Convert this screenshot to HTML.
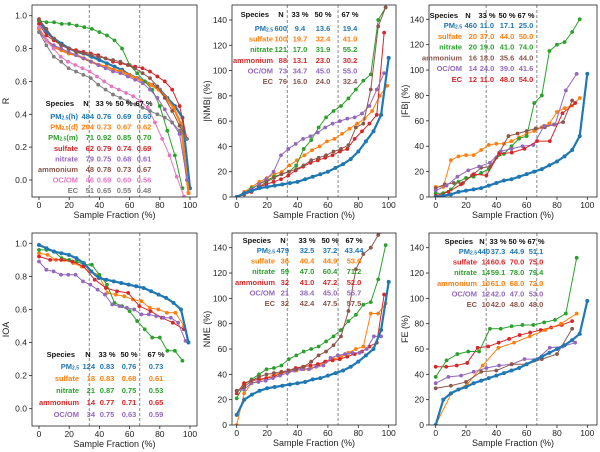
<!DOCTYPE html>
<html><head><meta charset="utf-8">
<style>
html,body{margin:0;padding:0;background:#fff;}
svg{display:block;font-family:"Liberation Sans",sans-serif;}
</style></head>
<body>
<svg id="fig" width="600" height="452" viewBox="0 0 600 452" xmlns="http://www.w3.org/2000/svg"></svg>
<script>
// ---------- data ----------
const rPm25h=[0.97,0.90,0.86,0.83,0.80,0.78,0.77,0.75,0.73,0.71,0.69,0.67,0.64,0.62,0.60,0.58,0.55,0.50,0.45,0.38,-0.05];
const rPm25d=[0.92,0.85,0.81,0.79,0.77,0.76,0.74,0.72,0.70,0.69,0.67,0.66,0.64,0.62,0.60,0.58,0.55,0.50,0.44,0.34,-0.08];
const rPm25m=[0.97,0.96,0.96,0.95,0.95,0.94,0.93,0.92,0.90,0.88,0.85,0.80,0.70,0.65,0.60,0.55,0.45,0.30,0.15,-0.05];
const rSulfate=[0.95,0.88,0.85,0.82,0.80,0.79,0.78,0.77,0.76,0.74,0.72,0.71,0.70,0.69,0.68,0.66,0.63,0.60,0.55,0.45,0.25];
const rNitrate=[0.90,0.85,0.82,0.80,0.78,0.76,0.74,0.72,0.70,0.68,0.66,0.65,0.63,0.61,0.59,0.55,0.50,0.43,0.35,0.28,0.0];
const rAmmonium=[0.98,0.92,0.86,0.82,0.80,0.78,0.77,0.76,0.75,0.74,0.73,0.72,0.70,0.68,0.65,0.62,0.57,0.50,0.42,0.33,0.25];
const rOcom=[0.93,0.85,0.80,0.75,0.72,0.70,0.68,0.66,0.63,0.60,0.57,0.55,0.53,0.51,0.48,0.44,0.35,0.25,0.15,0.02,-0.1];
const rEc=[0.90,0.82,0.75,0.72,0.68,0.66,0.64,0.62,0.58,0.55,0.52,0.50,0.48,0.46,0.44,0.42,0.40,0.38,0.35,0.30,0.25];

const nmbPm25=[0,3,5,7,8,9,10,11,12,14,16,18,20,23,26,30,36,44,52,65,110];
const nmbSulfate=[0,4,8,12,15,18,20,25,29,33,37,40,44,46,50,54,58,62,68,80,88];
const nmbNitrate=[0,3,7,10,13,16,18,20,25,38,45,55,63,68,72,78,85,92,97,140,150];
const nmbAmmonium=[0,2,4,8,10,12,14,17,21,24,27,29,31,33,36,38,46,52,58,65,130];
const nmbOcom=[0,3,6,10,14,20,33,38,42,46,48,51,55,58,60,62,63,66,72,85,98];
const nmbEc=[0,2,5,8,12,15,18,20,22,25,29,31,33,36,38,41,55,58,85,135,150];

const fbPm25=[0,1,2,4,5,6,7,9,11,13,14,16,18,20,22,25,28,32,37,48,97];
const fbSulfate=[8,8,29,32,33,33,37,41,42,42,44,47,50,52,55,58,67,70,72,78];
const fbNitrate=[3,3,6,12,15,16,19,22,31,34,40,46,48,74,80,115,120,122,130,140];
const fbAmmonium=[7,10,11,11,17,23,24,35,48,50,52,54,55,57,59,76];
const fbOcom=[5,9,16,21,24,27,36,38,40,41,56,57,84,97];
const fbEc=[1,4,10,18,17,34,35,38,44,44,66,74];

const ioaPm25=[0.99,0.97,0.95,0.94,0.93,0.91,0.88,0.83,0.79,0.78,0.77,0.76,0.75,0.74,0.73,0.71,0.69,0.67,0.64,0.60,0.40];
const ioaSulfate=[0.94,0.93,0.90,0.90,0.88,0.86,0.83,0.81,0.70,0.69,0.68,0.66,0.65,0.61,0.60,0.58,0.58,0.50];
const ioaNitrate=[0.96,0.96,0.95,0.91,0.90,0.89,0.87,0.87,0.81,0.75,0.64,0.62,0.59,0.53,0.48,0.43,0.43,0.35,0.35,0.29];
const ioaAmmonium=[0.92,0.90,0.90,0.89,0.86,0.78,0.73,0.71,0.70,0.62,0.59,0.55,0.52,0.48];
const ioaOcom=[0.89,0.84,0.83,0.81,0.81,0.81,0.77,0.75,0.72,0.69,0.63,0.62,0.61,0.60,0.57,0.57,0.56,0.55,0.55,0.52,0.41];

const nmePm25=[8,20,24,27,29,30,31,32,33,34,36,37,39,41,43,46,50,55,60,75,113];
const nmeSulfate=[0,25,33,35,37,40,41,42,43,44,45,47,50,52,54,57,60,62,88,88,96];
const nmeNitrate=[21,32,36,40,44,45,47,52,55,58,60,62,66,70,75,82,87,95,97,115,142];
const nmeAmmonium=[25,33,35,36,37,38,41,43,45,46,47,48,50,51,52,54,56,58,62,65,103];
const nmeOcom=[27,28,33,34,35,37,39,41,43,44,44,46,47,53,55,56,57,57,60,70,70];
const nmeEc=[27,30,35,38,40,41,42,43,44,46,50,55,58,63,70,90,123,135,140,150,155];

const fePm25=[0,20,25,28,30,33,35,37,39,41,43,45,48,51,54,57,60,63,67,72,98];
const feSulfate=[46,46,47,49,61,62,65,68,71,73,75,77,79,82];
const feNitrate=[38,51,56,58,58,76,76,78,79,79,81,83,88,132];
const feAmmonium=[0,25,32,47,61,65,70,75,80,88];
const feOcom=[33,38,39,42,45,47,48,52,52,61,62,65];
const feEc=[29,31,34,42,43,48,48,52,56,76];

// table rows: [name, N, p33, p50, p67]
const rTable=[["PM(h)","484","0.76","0.69","0.60"],["PM(d)","204","0.73","0.67","0.62"],["PM(m)","71","0.92","0.85","0.70"],["sulfate","62","0.79","0.74","0.69"],["nitrate","79","0.75","0.68","0.61"],["ammonium","48","0.78","0.73","0.67"],["OC/OM","46","0.69","0.60","0.56"],["EC","51","0.65","0.55","0.48"]];
const nmbTable=[["PM","600","9.4","13.6","19.4"],["sulfate","100","19.7","32.4","41.0"],["nitrate","121","17.0","31.9","55.2"],["ammonium","88","13.1","23.0","30.2"],["OC/OM","73","34.7","45.0","55.0"],["EC","76","16.0","24.0","32.4"]];
const fbTable=[["PM","460","11.0","17.1","25.0"],["sulfate","20","37.0","44.0","50.0"],["nitrate","20","19.0","41.0","74.0"],["ammonium","16","18.0","35.6","44.0"],["OC/OM","14","24.0","39.0","41.6"],["EC","12","11.0","48.0","54.0"]];
const ioaTable=[["PM","124","0.83","0.76","0.73"],["sulfate","18","0.83","0.68","0.61"],["nitrate","21","0.87","0.75","0.53"],["ammonium","14","0.77","0.71","0.65"],["OC/OM","34","0.75","0.63","0.59"]];
const nmeTable=[["PM","479","32.5","37.2","43.44"],["sulfate","36","40.4","44.9","53.6"],["nitrate","59","47.0","60.4","71.2"],["ammonium","32","41.0","47.2","52.0"],["OC/OM","21","38.4","45.0","55.7"],["EC","32","42.4","47.5","57.5"]];
const feTable=[["PM","440","37.3","44.9","51.1"],["sulfate","14","60.6","70.0","75.0"],["nitrate","14","59.1","78.0","79.4"],["ammonium","10","61.0","68.0","72.0"],["OC/OM","12","42.0","47.0","53.0"],["EC","10","42.0","48.0","48.0"]];

const xTicks=[0,20,40,60,80,100];
const rTicks=[0.0,0.2,0.4,0.6,0.8,1.0];
const pctTicks=[0,20,40,60,80,100,120,140];
const cutoffs=[33.3,66.7];

// ---------- drawing ----------
const C={blue:"#1f77b4",orange:"#ff7f0e",green:"#2ca02c",red:"#d62728",purple:"#9467bd",brown:"#8c564b",pink:"#e377c2",gray:"#7f7f7f"};
const NS="http://www.w3.org/2000/svg";
const svg=document.getElementById("fig");
function mk(tag,attrs,parent){const e=document.createElementNS(NS,tag);for(const k in attrs)e.setAttribute(k,attrs[k]);(parent||svg).appendChild(e);return e;}
const FS=7.5;

function drawPanel(p){
  const g=mk("g",{});
  
  
  const X=v=>p.x0+(v/100)*(p.x100-p.x0);
  const Y=v=>p.yA+(v-p.vA)*(p.yB-p.yA)/(p.vB-p.vA);
  const clipId="clip-"+p.name;
  const cp=mk("clipPath",{id:clipId},g);
  mk("rect",{x:p.bx0,y:p.by0,width:p.bx1-p.bx0,height:p.by1-p.by0},cp);
  cutoffs.forEach(c=>{
    const l=mk("line",{x1:X(c),x2:X(c),y1:p.by0,y2:p.by1,stroke:"#888","stroke-width":1,"stroke-dasharray":"3,2"},g);
    
    
  });
  const sg=mk("g",{"clip-path":"url(#"+clipId+")"},g);
  p.series.forEach(s=>{
    const n=s.y.length;
    const pts=s.y.map((v,i)=>[X(n>1?i*s.xmax/(n-1):0),Y(v)]);
    const pl=mk("polyline",{points:pts.map(q=>q.join(",")).join(" "),fill:"none",stroke:s.c,"stroke-width":s.dense?2.2:1},sg);
    
    
    pts.forEach(q=>{
      const c=mk("circle",{cx:q[0],cy:q[1],r:s.dense?2:1.9,fill:s.c},sg);
      
      
    });
  });
  const box=mk("rect",{x:p.bx0,y:p.by0,width:p.bx1-p.bx0,height:p.by1-p.by0,fill:"none",stroke:"#222","stroke-width":0.8},g);
  
  
  xTicks.forEach(t=>{
    mk("line",{x1:X(t),x2:X(t),y1:p.by1,y2:p.by1+3,stroke:"#222","stroke-width":0.8},g);
    const tx=mk("text",{x:X(t),y:p.by1+11,"font-size":8.5,"text-anchor":"middle",fill:"#222"},g);
    tx.textContent=t;
    
    
  });
  const xl=mk("text",{x:(p.bx0+p.bx1)/2,y:p.by1+21,"font-size":9,"text-anchor":"middle",fill:"#222"},g);
  xl.textContent="Sample Fraction (%)";
  
  
  p.ticks.forEach(t=>{
    mk("line",{x1:p.bx0-3,x2:p.bx0,y1:Y(t),y2:Y(t),stroke:"#222","stroke-width":0.8},g);
    const tx=mk("text",{x:p.bx0-5,y:Y(t)+3,"font-size":8.5,"text-anchor":"end",fill:"#222"},g);
    tx.textContent=p.fmt(t);
    
    
  });
  const yx=p.ylx, yy=(p.by0+p.by1)/2;
  const yl=mk("text",{x:yx,y:yy,"font-size":9,"text-anchor":"middle",fill:"#222",transform:`rotate(-90 ${yx} ${yy})`},g);
  yl.textContent=p.ylabel;
  
  
  // table
  const T=p.table;
  const hdr=[["Species",T.nameX-4,"end"],["N",T.nH,"middle"],["33 %",T.c1,"middle"],["50 %",T.c2,"middle"],["67 %",T.c3,"middle"]];
  hdr.forEach(h=>{
    const t=mk("text",{x:h[1],y:T.hy,"font-size":FS,"font-weight":"bold","text-anchor":h[2],"dominant-baseline":"middle",fill:"#111"},g);
    t.textContent=h[0];
    
    
  });
  T.rows.forEach((row,i)=>{
    const y=T.ry0+i*T.dy, col=T.colors[i];
    const nm=mk("text",{x:T.nameX,y:y,"font-size":FS,"font-weight":"bold","text-anchor":"end","dominant-baseline":"middle",fill:col},g);
    
    
    const name=row[0];
    if(name.startsWith("PM")){
      const a=mk("tspan",{},nm);a.textContent="PM";
      const b=mk("tspan",{"font-size":5,dy:1.5},nm);b.textContent="2.5";
      if(name.length>2){const c=mk("tspan",{dy:-1.5},nm);c.textContent=name.slice(2);}
    } else nm.textContent=name;
    [[row[1],T.nR,"end"],[row[2],T.c1,"middle"],[row[3],T.c2,"middle"],[row[4],T.c3,"middle"]].forEach(v=>{
      const t=mk("text",{x:v[1],y:y,"font-size":FS,"font-weight":"bold","text-anchor":v[2],"dominant-baseline":"middle",fill:col},g);
      t.textContent=v[0];
      
      
    });
  });
}

const panels=[
 {name:"r",bx0:32,bx1:197,by0:5,by1:197,x0:39,x100:190,vA:0,yA:180,vB:1,yB:15.7,ticks:rTicks,fmt:t=>t.toFixed(1),ylabel:"R",ylx:9,
  series:[{id:"pm25h",y:rPm25h,xmax:100,c:C.blue,dense:1},{id:"pm25d",y:rPm25d,xmax:99,c:C.orange,dense:1},{id:"pm25m",y:rPm25m,xmax:95,c:C.green},
   {id:"sulfate",y:rSulfate,xmax:98,c:C.red},{id:"nitrate",y:rNitrate,xmax:98,c:C.purple},{id:"ammonium",y:rAmmonium,xmax:98,c:C.brown},
   {id:"ocom",y:rOcom,xmax:96,c:C.pink},{id:"ec",y:rEc,xmax:98,c:C.gray}],
  table:{rows:rTable,colors:[C.blue,C.orange,C.green,C.red,C.purple,C.brown,C.pink,C.gray],nameX:78,nR:94,nH:86,c1:104,c2:124,c3:144,hy:104,ry0:117,dy:10.6}},
 {name:"nmb",bx0:232,bx1:396,by0:5,by1:197,x0:236.7,x100:388.7,vA:0,yA:197,vB:140,yB:20,ticks:pctTicks,fmt:t=>t,ylabel:"|NMB| (%)",ylx:210,
  series:[{id:"sulfate",y:nmbSulfate,xmax:99,c:C.orange},{id:"nitrate",y:nmbNitrate,xmax:98,c:C.green},{id:"ammonium",y:nmbAmmonium,xmax:97,c:C.red},
   {id:"ocom",y:nmbOcom,xmax:97,c:C.purple},{id:"ec",y:nmbEc,xmax:98,c:C.brown},{id:"pm25",y:nmbPm25,xmax:100,c:C.blue,dense:1}],
  table:{rows:nmbTable,colors:[C.blue,C.orange,C.green,C.red,C.purple,C.brown],nameX:273,nR:287,nH:281,c1:300,c2:323,c3:350,hy:15,ry0:29,dy:10.6}},
 {name:"fb",bx0:429,bx1:597,by0:5,by1:197,x0:435.7,x100:587.3,vA:0,yA:197,vB:140,yB:19.3,ticks:pctTicks,fmt:t=>t,ylabel:"|FB| (%)",ylx:408,
  series:[{id:"sulfate",y:fbSulfate,xmax:95,c:C.orange},{id:"nitrate",y:fbNitrate,xmax:95,c:C.green},{id:"ammonium",y:fbAmmonium,xmax:90,c:C.brown},
   {id:"ocom",y:fbOcom,xmax:93,c:C.purple},{id:"ec",y:fbEc,xmax:92,c:C.red},{id:"pm25",y:fbPm25,xmax:100,c:C.blue,dense:1}],
  table:{rows:fbTable,colors:[C.blue,C.orange,C.green,C.brown,C.purple,C.red],nameX:462,nR:477,nH:468,c1:487,c2:507,c3:526,hy:16,ry0:26,dy:10.8}},
 {name:"ioa",bx0:32,bx1:197,by0:233,by1:426,x0:39,x100:190,vA:0,yA:408.7,vB:1,yB:243.3,ticks:rTicks,fmt:t=>t.toFixed(1),ylabel:"IOA",ylx:9,
  series:[{id:"sulfate",y:ioaSulfate,xmax:96,c:C.orange},{id:"nitrate",y:ioaNitrate,xmax:95,c:C.green},{id:"ammonium",y:ioaAmmonium,xmax:96,c:C.red},
   {id:"ocom",y:ioaOcom,xmax:97,c:C.purple},{id:"pm25",y:ioaPm25,xmax:99,c:C.blue,dense:1}],
  table:{rows:ioaTable,colors:[C.blue,C.orange,C.green,C.red,C.purple],nameX:79,nR:95,nH:88,c1:107,c2:129,c3:156,hy:355,ry0:367,dy:12}},
 {name:"nme",bx0:232,bx1:396,by0:233,by1:425,x0:236.7,x100:388.7,vA:0,yA:425,vB:140,yB:247.7,ticks:pctTicks,fmt:t=>t,ylabel:"NME (%)",ylx:210,
  series:[{id:"sulfate",y:nmeSulfate,xmax:98,c:C.orange},{id:"nitrate",y:nmeNitrate,xmax:98,c:C.green},{id:"ammonium",y:nmeAmmonium,xmax:97,c:C.red},
   {id:"ocom",y:nmeOcom,xmax:95,c:C.purple},{id:"ec",y:nmeEc,xmax:98,c:C.brown},{id:"pm25",y:nmePm25,xmax:100,c:C.blue,dense:1}],
  table:{rows:nmeTable,colors:[C.blue,C.orange,C.green,C.red,C.purple,C.brown],nameX:275,nR:289,nH:283,c1:307,c2:330,c3:354,hy:241,ry0:251,dy:10.6}},
 {name:"fe",bx0:429,bx1:597,by0:233,by1:425,x0:435.7,x100:587.3,vA:0,yA:425,vB:140,yB:247.7,ticks:pctTicks,fmt:t=>t,ylabel:"FE (%)",ylx:408,
  series:[{id:"sulfate",y:feSulfate,xmax:90,c:C.red},{id:"nitrate",y:feNitrate,xmax:93,c:C.green},{id:"ammonium",y:feAmmonium,xmax:93,c:C.orange},
   {id:"ocom",y:feOcom,xmax:92,c:C.purple},{id:"ec",y:feEc,xmax:90,c:C.brown},{id:"pm25",y:fePm25,xmax:100,c:C.blue,dense:1}],
  table:{rows:feTable,colors:[C.blue,C.red,C.green,C.orange,C.purple,C.brown],nameX:477,nR:490,nH:482,c1:498,c2:517,c3:536,hy:242,ry0:252,dy:10.6}}
];
panels.forEach(drawPanel);
</script>
</body></html>
